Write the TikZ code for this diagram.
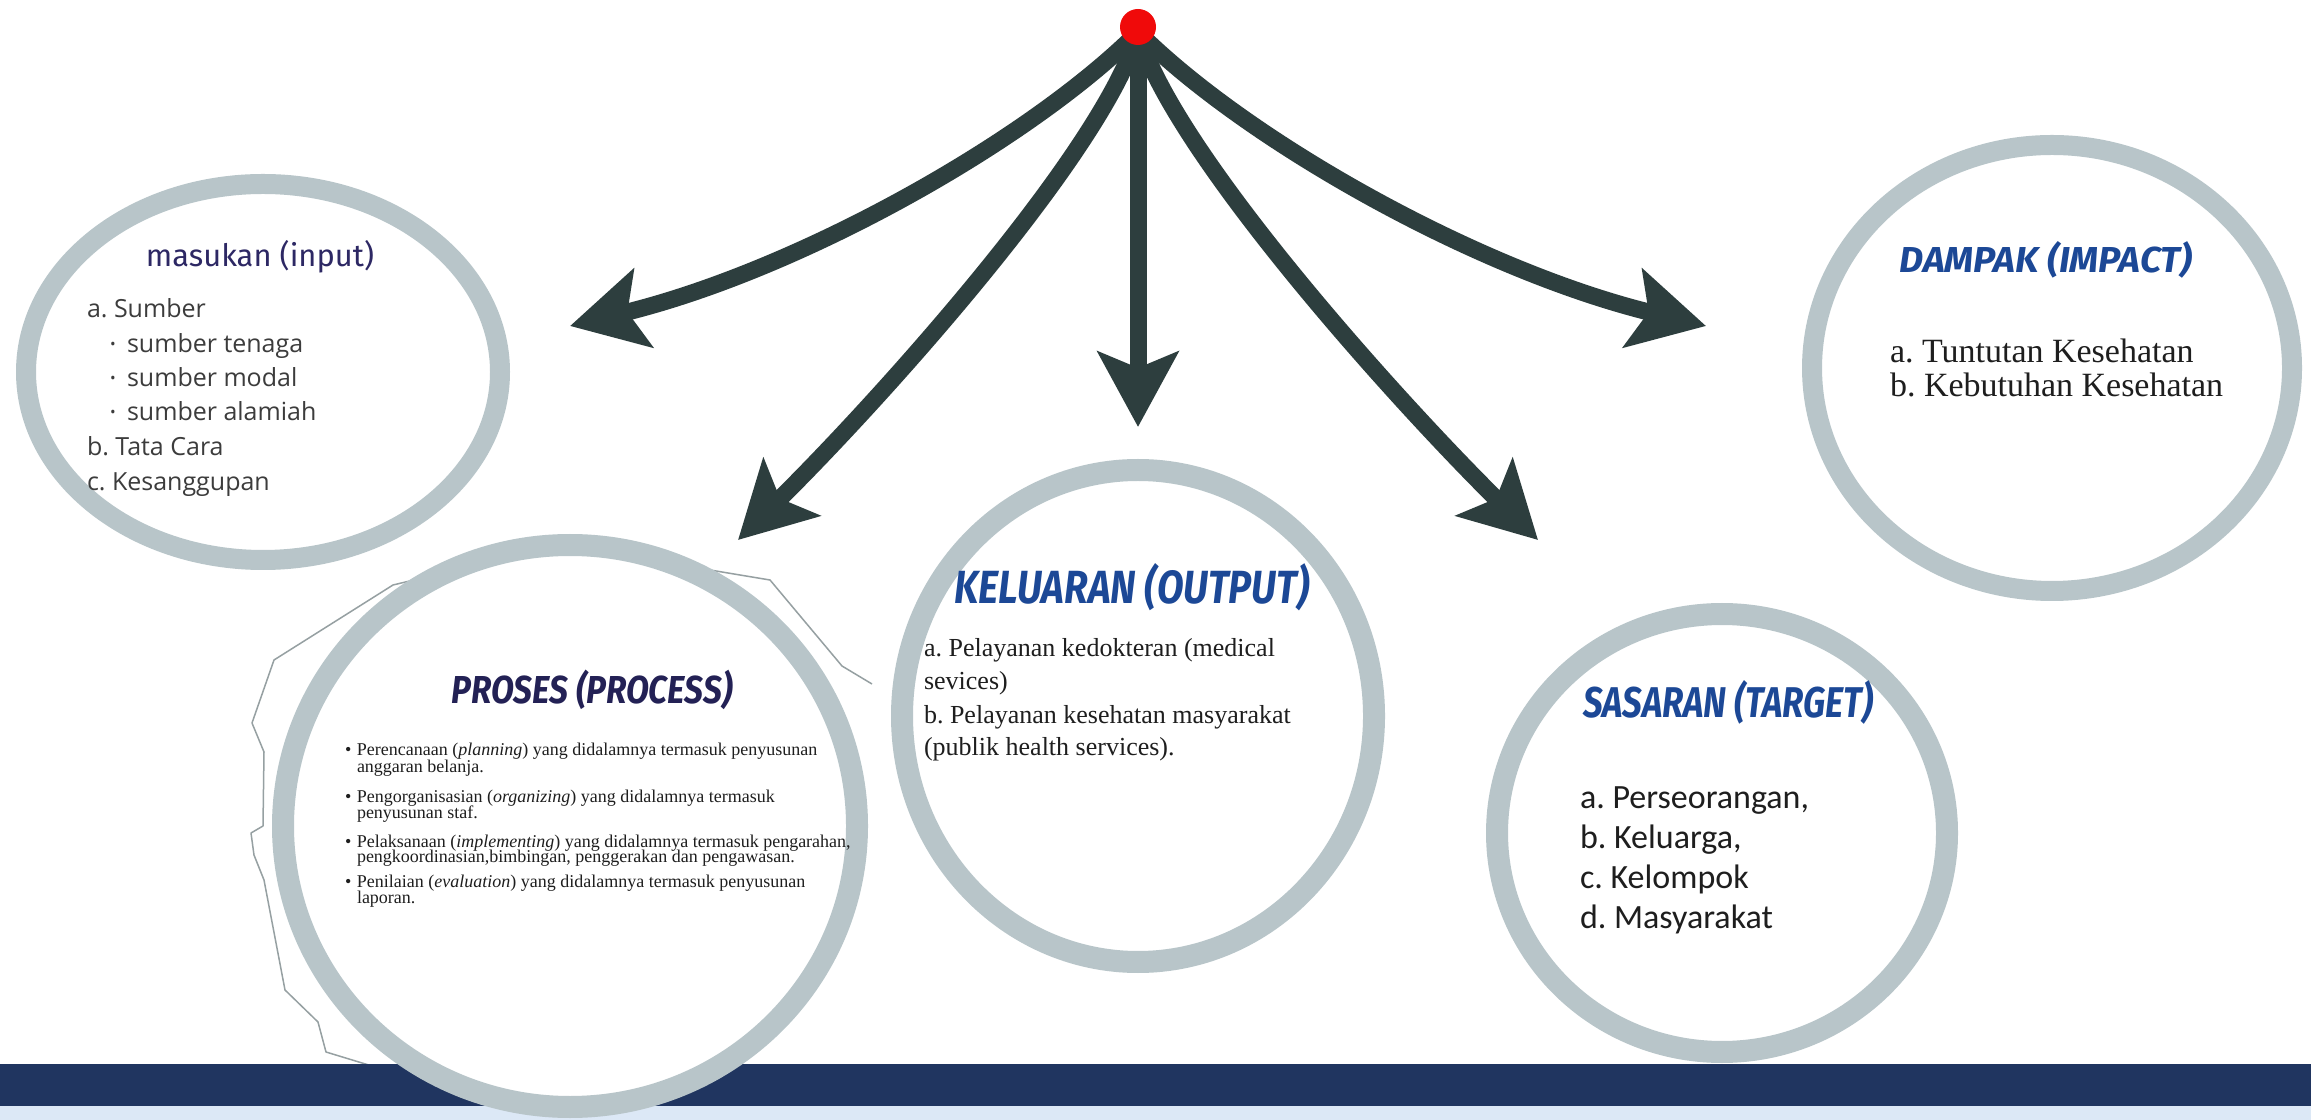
\documentclass[tikz,border=0pt]{standalone}
\usepackage{fontspec}
\usepackage{graphicx}
\usetikzlibrary{arrows.meta,shapes.geometric}
\setmainfont{Liberation Serif}
\newfontfamily\titlefont{Fira Sans}
\newfontfamily\inputfont{Open Sans}
\newfontfamily\sasfont{Carlito}
\newfontfamily\seriffont{Liberation Serif}
\definecolor{ringc}{RGB}{184,197,201}
\definecolor{arrowc}{RGB}{45,62,62}
\definecolor{dotc}{RGB}{240,10,10}
\definecolor{bardark}{RGB}{32,53,96}
\definecolor{barlight}{RGB}{220,232,246}
\definecolor{titleblue}{RGB}{28,72,150}
\definecolor{titlenavy}{RGB}{35,33,85}
\definecolor{titlepurple}{RGB}{45,40,100}
\definecolor{txtgray}{RGB}{60,60,60}
\definecolor{txtdark}{RGB}{30,30,30}
\definecolor{polyc}{RGB}{150,160,162}
\newcommand\smallbul{\raisebox{0.25ex}{\scalebox{0.6}{•}}}
\frenchspacing
\begin{document}
\frenchspacing
\begin{tikzpicture}[x=0.1mm, y=-0.1mm,
  ring/.style={ellipse, draw=ringc, fill=white, inner sep=0pt, outer sep=0pt},
  arr/.style={draw=arrowc, line width=1.7mm, -{Stealth[length=7.5mm,width=8mm,inset=1.6mm]}},
  tx/.style={anchor=base west, inner sep=0pt, outer sep=0pt},
  ttl/.style={anchor=center, inner sep=0pt, outer sep=0pt},
  inlist/.style={tx, text=txtgray, font={\inputfont\frenchspacing\fontsize{7.11pt}{9.87pt}\selectfont}},
  prlist/.style={tx, text=txtdark, font={\seriffont\frenchspacing\fontsize{5.12pt}{4.6pt}\selectfont}},
  kllist/.style={tx, text=txtdark, font={\seriffont\frenchspacing\fontsize{7.4pt}{9.4pt}\selectfont}},
  dplist/.style={tx, text=txtdark, font={\seriffont\frenchspacing\fontsize{9.67pt}{9.67pt}\selectfont}},
  sslist/.style={tx, text=txtdark, font={\sasfont\frenchspacing\fontsize{9.67pt}{11.4pt}\selectfont}},
  polyline/.style={draw=polyc, line width=0.15mm, line join=round}
]
\useasboundingbox (0,0) rectangle (2311,1120);
\fill[white] (0,0) rectangle (2311,1120);

% thin irregular outline behind the process circle
\draw[polyline] (872,684) -- (842,666) -- (770,580) -- (560,545) -- (393,585) -- (274,660)
  -- (252,723) -- (264,752) -- (263,826) -- (251,833) -- (254,855) -- (264,880)
  -- (285,990) -- (318,1022) -- (326,1052) -- (372,1066);

% bottom bar
\fill[bardark] (0,1064) rectangle (2311,1106);
\fill[barlight] (0,1106) rectangle (2311,1120);

% circles
\node[ring, line width=2mm, minimum width=47.4mm, minimum height=37.6mm] (inC) at (263,372) {};
\node[ring, line width=2.2mm, minimum width=57.4mm, minimum height=56.2mm] (prC) at (570,826) {};
\node[ring, line width=2.2mm, minimum width=47.2mm, minimum height=49.2mm] (klC) at (1138,716) {};
\node[ring, line width=2mm, minimum width=48mm, minimum height=44.6mm] (dpC) at (2052,368) {};
\node[ring, line width=2.2mm, minimum width=45mm, minimum height=43.8mm] (ssC) at (1722,833) {};

% arrows
\coordinate (hubc) at (1138,32);
\coordinate (t1) at (570,326);
\coordinate (t2) at (738,540);
\coordinate (t3) at (1138,427);
\coordinate (t4) at (1538,540);
\coordinate (t5) at (1706,326);
\draw[arr] (hubc) .. controls (1030,140) and (800,270) .. (t1);
\draw[arr] (hubc) .. controls (1105,150) and (880,400) .. (t2);
\draw[arr] (hubc) -- (t3);
\draw[arr] (hubc) .. controls (1171,150) and (1396,400) .. (t4);
\draw[arr] (hubc) .. controls (1246,140) and (1476,270) .. (t5);
\node[circle, fill=dotc, minimum size=3.6mm, inner sep=0pt] (hub) at (1138,27) {};

% titles
\node[ttl, text=titlepurple] (inT) at (260,257) {\resizebox{22.8mm}{!}{\titlefont masukan (input)}};
\node[ttl, text=titlenavy] (prT) at (592,690) {\resizebox{28.1mm}{3.35mm}{\titlefont\bfseries\itshape PROSES (PROCESS)}};
\node[ttl, text=titleblue] (klT) at (1132,587) {\resizebox{35.5mm}{4.0mm}{\titlefont\bfseries\itshape KELUARAN (OUTPUT)}};
\node[ttl, text=titleblue] (dpT) at (2046,260) {\resizebox{29.3mm}{3.1mm}{\titlefont\bfseries\itshape DAMPAK (IMPACT)}};
\node[ttl, text=titleblue] (ssT) at (1728,702) {\resizebox{29mm}{3.7mm}{\titlefont\bfseries\itshape SASARAN (TARGET)}};

% input list
\node[inlist] (in1) at (87,318) {a. Sumber};
\node[inlist] (in2) at (110,353) {\makebox[1.7mm][l]{\smallbul}sumber tenaga};
\node[inlist] (in3) at (110,387) {\makebox[1.7mm][l]{\smallbul}sumber modal};
\node[inlist] (in4) at (110,421) {\makebox[1.7mm][l]{\smallbul}sumber alamiah};
\node[inlist] (in5) at (87,456) {b. Tata Cara};
\node[inlist] (in6) at (87,491) {c. Kesanggupan};

% process list
\node[prlist] (pr1) at (345,755) {\makebox[1.2mm][l]{•}Perencanaan (\textit{planning}) yang didalamnya termasuk penyusunan};
\node[prlist] (pr2) at (357,772) {anggaran belanja.};
\node[prlist] (pr3) at (345,802) {\makebox[1.2mm][l]{•}Pengorganisasian (\textit{organizing}) yang didalamnya termasuk};
\node[prlist] (pr4) at (357,818) {penyusunan staf.};
\node[prlist] (pr5) at (345,847) {\makebox[1.2mm][l]{•}Pelaksanaan (\textit{implementing}) yang didalamnya termasuk pengarahan,};
\node[prlist] (pr6) at (357,862) {pengkoordinasian,bimbingan, penggerakan dan pengawasan.};
\node[prlist] (pr7) at (345,887) {\makebox[1.2mm][l]{•}Penilaian (\textit{evaluation}) yang didalamnya termasuk penyusunan};
\node[prlist] (pr8) at (357,903) {laporan.};

% output list
\node[kllist] (kl1) at (924,657) {a. Pelayanan kedokteran (medical};
\node[kllist] (kl2) at (924,690) {sevices)};
\node[kllist] (kl3) at (924,723) {b. Pelayanan kesehatan masyarakat};
\node[kllist] (kl4) at (924,756) {(publik health services).};

% impact list
\node[dplist] (dp1) at (1890,363) {a. Tuntutan Kesehatan};
\node[dplist] (dp2) at (1890,397) {b. Kebutuhan Kesehatan};

% target list
\node[sslist] (ss1) at (1580,808) {a. Perseorangan,};
\node[sslist] (ss2) at (1580,848) {b. Keluarga,};
\node[sslist] (ss3) at (1580,888) {c. Kelompok};
\node[sslist] (ss4) at (1580,928) {d. Masyarakat};
\end{tikzpicture}
\end{document}
